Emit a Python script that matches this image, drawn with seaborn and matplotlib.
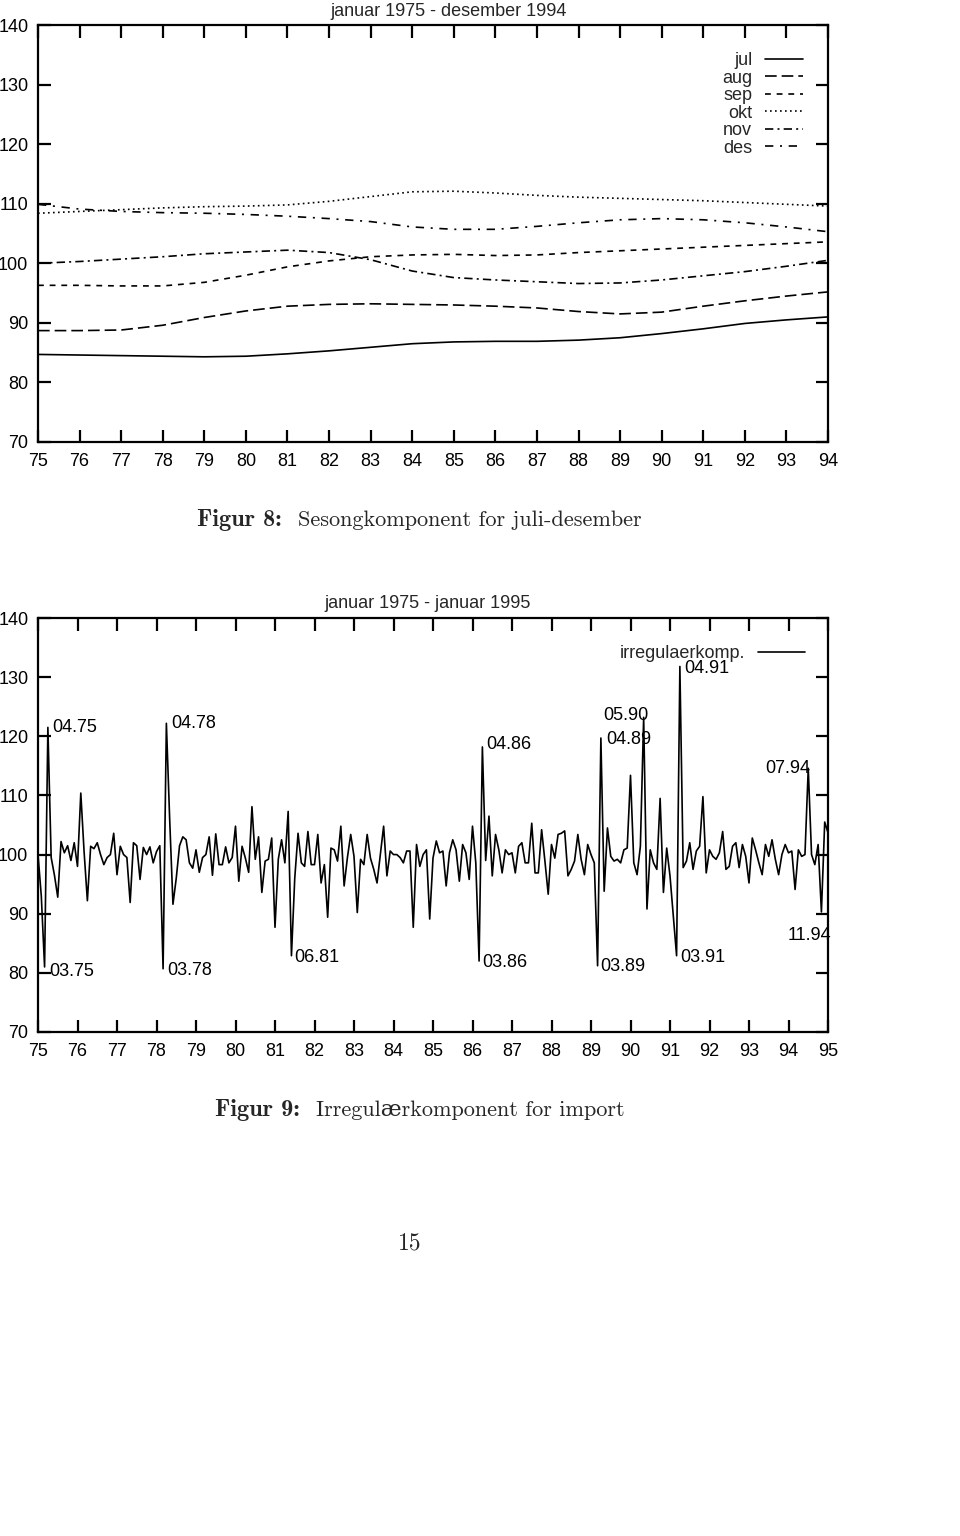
import numpy as np
import pandas as pd
import matplotlib
matplotlib.use("Agg")
import matplotlib.pyplot as plt
import seaborn as sns

# ---------------- data: Figur 8 (seasonal component, Jul-Dec) ----------------
years = list(range(75, 95))
jul = [84.7, 84.6, 84.5, 84.4, 84.3, 84.4, 84.8, 85.3, 85.9, 86.5,
       86.8, 86.9, 86.9, 87.1, 87.5, 88.2, 89.0, 89.9, 90.5, 91.0]
aug = [88.7, 88.7, 88.8, 89.6, 90.9, 92.0, 92.8, 93.1, 93.2, 93.1,
       93.0, 92.8, 92.5, 91.9, 91.5, 91.8, 92.8, 93.7, 94.5, 95.2]
sep = [96.3, 96.3, 96.2, 96.2, 96.8, 98.0, 99.4, 100.4, 101.1, 101.4,
       101.5, 101.3, 101.4, 101.8, 102.1, 102.4, 102.7, 103.0, 103.3, 103.6]
okt = [108.4, 108.7, 109.0, 109.3, 109.5, 109.6, 109.8, 110.4, 111.2, 112.0,
       112.1, 111.8, 111.4, 111.1, 110.9, 110.7, 110.5, 110.2, 109.9, 109.6]
nov = [100.0, 100.3, 100.7, 101.1, 101.6, 101.9, 102.2, 101.8, 100.6, 98.7,
       97.6, 97.2, 96.9, 96.6, 96.7, 97.2, 97.9, 98.6, 99.5, 100.5]
des = [109.9, 109.1, 108.7, 108.5, 108.4, 108.2, 107.9, 107.5, 107.0, 106.1,
       105.7, 105.7, 106.2, 106.8, 107.3, 107.5, 107.3, 106.8, 106.1, 105.3]
months = ["jul", "aug", "sep", "okt", "nov", "des"]
top_xticks = list(range(75, 95))
yticks = list(range(70, 150, 10))

# ---------------- data: Figur 9 (irregular component, Jan 1975 - Jan 1995) ----
irregular = [
    100.0, 93.0, 81.0, 121.5, 99.5, 96.5, 92.8, 102.2, 100.3, 101.5, 99.0, 102.0,    # 1975
    98.0, 110.4, 100.5, 92.2, 101.4, 101.0, 102.0, 100.0, 98.3, 99.5, 100.0, 103.6,  # 1976
    96.6, 101.4, 100.0, 99.5, 91.9, 102.0, 101.5, 95.8, 101.2, 100.0, 101.3, 98.6,   # 1977
    100.5, 101.5, 80.7, 122.2, 106.0, 91.6, 96.0, 101.5, 103.0, 102.5, 98.6, 97.7,   # 1978
    100.8, 97.0, 99.5, 100.0, 103.0, 96.5, 103.5, 98.3, 98.3, 101.3, 98.6, 99.5,     # 1979
    104.8, 95.5, 101.4, 99.4, 97.0, 108.1, 99.2, 103.0, 93.6, 98.9, 99.2, 102.8,     # 1980
    87.7, 99.2, 102.5, 98.6, 107.3, 82.9, 96.0, 103.6, 98.6, 98.0, 103.9, 98.3,      # 1981
    98.3, 103.4, 95.2, 98.3, 89.4, 101.1, 100.8, 98.9, 104.8, 94.7, 99.5, 103.4,     # 1982
    99.7, 90.2, 99.2, 98.3, 103.4, 99.4, 97.5, 95.2, 100.0, 104.8, 96.4, 100.6,      # 1983
    100.0, 100.0, 99.5, 98.6, 100.6, 100.6, 87.7, 101.7, 98.0, 100.0, 100.8, 89.1,   # 1984
    99.4, 102.3, 100.3, 100.6, 94.7, 100.3, 102.5, 100.8, 95.5, 101.7, 100.3, 95.8,  # 1985
    104.8, 98.6, 82.0, 118.2, 99.0, 106.5, 96.4, 103.4, 100.8, 96.9, 100.8, 100.0,   # 1986
    100.3, 96.9, 101.4, 102.0, 98.6, 98.6, 105.3, 96.9, 96.9, 104.2, 98.9, 93.3,     # 1987
    101.7, 99.4, 103.4, 103.6, 104.0, 96.4, 97.5, 98.9, 103.4, 99.2, 96.6, 101.7,    # 1988
    100.0, 98.6, 81.2, 119.7, 93.8, 104.5, 99.7, 98.9, 99.2, 98.6, 100.8, 101.1,     # 1989
    113.4, 98.6, 96.6, 101.4, 123.2, 90.8, 100.8, 98.6, 97.5, 109.5, 93.6, 101.1,    # 1990
    96.4, 89.7, 82.9, 131.8, 97.8, 98.9, 102.0, 97.5, 100.6, 101.4, 109.8, 96.9,     # 1991
    100.8, 99.7, 99.2, 100.3, 103.9, 97.5, 98.0, 101.4, 102.0, 97.8, 101.7, 99.7,    # 1992
    95.2, 102.8, 100.8, 98.6, 96.6, 101.7, 99.7, 102.5, 99.2, 96.6, 100.0, 101.7,    # 1993
    100.3, 100.6, 94.1, 100.8, 99.7, 100.0, 114.6, 100.0, 98.3, 101.7, 90.3, 105.5,  # 1994
    103.7,                                                                            # 1995-01
]
bottom_xticks = list(range(75, 96))
ann_labels = ["03.75", "04.75", "03.78", "04.78", "06.81", "03.86", "04.86",
              "03.89", "04.89", "05.90", "03.91", "04.91", "07.94", "11.94"]

# ---------------- styling ----------------
sns.set_theme(style="white", rc={
    "axes.edgecolor": "black",
    "axes.linewidth": 1.6,
    "xtick.direction": "in",
    "ytick.direction": "in",
    "xtick.color": "black",
    "ytick.color": "black",
})
plt.rcParams["font.family"] = ["Liberation Sans", "DejaVu Sans"]

FS = 13
fig = plt.figure(figsize=(9.6, 15.36), dpi=100)
fig.patch.set_facecolor("white")


def px(x0, y0, x1, y1):
    W, H = 960.0, 1536.0
    return [x0 / W, 1 - y1 / H, (x1 - x0) / W, (y1 - y0) / H]


def style_axes(ax, xticks):
    ax.set_ylim(70, 140)
    ax.set_yticks(yticks)
    ax.set_xticks(xticks)
    ax.set_xticklabels([str(v) for v in xticks])
    ax.set_xlim(xticks[0], xticks[-1])
    ax.tick_params(axis="both", which="both", direction="in", length=9, width=1.6,
                   top=True, right=True, bottom=True, left=True,
                   labelsize=FS, colors="black")
    ax.tick_params(axis="x", pad=8)
    ax.tick_params(axis="y", pad=7)
    ax.set_xlabel("")
    ax.set_ylabel("")
    for s in ax.spines.values():
        s.set_visible(True)
        s.set_color("black")
        s.set_linewidth(1.6)
    ax.set_facecolor("white")
    ax.grid(False)


# ---------------- Figur 8 ----------------
ax1 = fig.add_axes(px(38, 25, 828, 442))
df_top = pd.DataFrame({
    "year": years * 6,
    "value": jul + aug + sep + okt + nov + des,
    "month": sum([[m] * len(years) for m in months], []),
})
dash_map = {
    "jul": "",
    "aug": (7, 3),
    "sep": (3.5, 3.5),
    "okt": (1, 2),
    "nov": (5, 2.5, 1.2, 2.5),
    "des": (5, 4, 1.2, 4),
}
sns.lineplot(data=df_top, x="year", y="value", style="month", style_order=months,
             dashes=dash_map, color="black", linewidth=1.2, estimator=None,
             legend=False, ax=ax1)
style_axes(ax1, top_xticks)
handles = ax1.get_lines()[:6]
ax1.legend(handles, months, loc="upper right", bbox_to_anchor=(0.968, 0.935),
           frameon=False, markerfirst=False, fontsize=13, handlelength=2.1,
           handletextpad=0.7, labelspacing=0.03, borderpad=0, borderaxespad=0)
fig.text(449 / 960, 1 - 11 / 1536, "januar 1975 - desember 1994", ha="center",
         va="center", fontsize=FS)

# ---------------- Figur 9 ----------------
ax2 = fig.add_axes(px(38, 618, 828, 1032))
t = [75 + i / 12 for i in range(len(irregular))]
sns.lineplot(x=t, y=irregular, color="black", linewidth=1.2, estimator=None,
             ax=ax2, label="irregulaerkomp.")
style_axes(ax2, bottom_xticks)
ax2.legend(loc="upper right", bbox_to_anchor=(0.971, 0.935), frameon=False,
           markerfirst=False, fontsize=13, handlelength=2.6, handletextpad=0.7,
           borderpad=0, borderaxespad=0)
fig.text(428 / 960, 1 - 603 / 1536, "januar 1975 - januar 1995", ha="center",
         va="center", fontsize=FS)

# label placement (style): ha, dx px, dy px (positive = down)
ann_style = {
    "03.75": ("left", 5, 5), "04.75": ("left", 4, 0), "03.78": ("left", 4, 2),
    "04.78": ("left", 5, 0), "06.81": ("left", 3, 2), "03.86": ("left", 3, 1),
    "04.86": ("left", 4, -2), "03.89": ("left", 3, 1), "04.89": ("left", 5, 1),
    "05.90": ("right", 5, -2), "03.91": ("left", 4, 2), "04.91": ("left", 4, 2),
    "07.94": ("right", 2, 0), "11.94": ("right", 10, 24),
}
for lab in ann_labels:
    mm, yy = int(lab[:2]), int(lab[3:])
    idx = (yy - 75) * 12 + (mm - 1)
    ha, dx, dy = ann_style[lab]
    ax2.annotate(lab, xy=(t[idx], irregular[idx]), xytext=(dx * 0.72, -dy * 0.72),
                 textcoords="offset points", ha=ha, va="center", fontsize=FS,
                 color="black", annotation_clip=False)

# ---------------- captions and page number ----------------
serif = ["cmr10", "DejaVu Serif"]
serif_b = ["cmb10", "DejaVu Serif"]
fig.text(197 / 960, 1 - 520 / 1536, "Figur 8:", family=serif_b, fontsize=17.5,
         va="center", ha="left")
fig.text(298 / 960, 1 - 520 / 1536, "Sesongkomponent for juli-desember", family=serif,
         fontsize=16, va="center", ha="left")
fig.text(215 / 960, 1 - 1110 / 1536, "Figur 9:", family=serif_b, fontsize=17.5,
         va="center", ha="left")
fig.text(316 / 960, 1 - 1110 / 1536, "Irregulærkomponent for import", family=serif,
         fontsize=16, va="center", ha="left")
fig.text(410 / 960, 1 - 1243 / 1536, "15", family=serif, fontsize=17,
         va="center", ha="center")

fig.savefig("out.png", dpi=100, facecolor="white")
